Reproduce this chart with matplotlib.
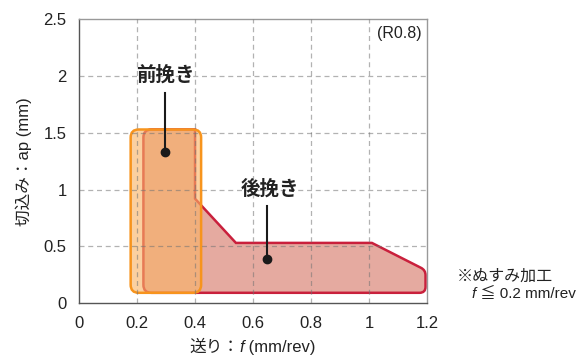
import matplotlib
matplotlib.use("Agg")
import matplotlib.pyplot as plt
from matplotlib.path import Path
from matplotlib.patches import PathPatch
from matplotlib.offsetbox import TextArea, HPacker, AnchoredOffsetbox

plt.rcParams['font.family'] = ['Liberation Sans', 'Noto Sans CJK JP', 'DejaVu Sans']

# 前挽き (area in f / ap)
front_f = [0.178, 0.421, 0.421, 0.178]
front_ap = [0.09, 0.09, 1.53, 1.53]

# 後挽き (area in f / ap)
back_f = [0.222, 1.195, 1.195, 1.01, 0.541, 0.40, 0.40, 0.222]
back_ap = [0.09, 0.09, 0.29, 0.53, 0.53, 0.92, 1.53, 1.53]
back_round = [8, 6, 5, 0, 0, 0, 0, 8]  # corner radius in px

x_ticks = [0, 0.2, 0.4, 0.6, 0.8, 1.0, 1.2]
x_ticklabels = ['0', '0.2', '0.4', '0.6', '0.8', '1', '1.2']
y_ticks = [0, 0.5, 1.0, 1.5, 2.0, 2.5]
y_ticklabels = ['0', '0.5', '1', '1.5', '2', '2.5']

front_label = (0.297, 2.01, 1.85, 1.335)  # text x, text y, line top, dot
back_label = (0.659, 1.01, 0.855, 0.385)
back_line_x = 0.647

fig = plt.figure(figsize=(5.77, 3.58), dpi=100)
ax = fig.add_axes([0.137, 0.1536, 0.603, 0.792])
ax.set_xlim(0, 1.2)
ax.set_ylim(0, 2.5)

# px per data unit (for rounding corners)
sx = 0.603 * 577 / 1.2
sy = 0.792 * 358 / 2.5


def rounded_path(xs, ys, radii):
    n = len(xs)
    verts, codes = [], []
    for i in range(n):
        px, py = xs[i] * sx, ys[i] * sy
        r = radii[i]
        if r == 0:
            verts.append((px, py))
            codes.append(Path.LINETO)
            continue
        ax_, ay_ = xs[i - 1] * sx, ys[i - 1] * sy
        bx, by = xs[(i + 1) % n] * sx, ys[(i + 1) % n] * sy
        da = ((ax_ - px) ** 2 + (ay_ - py) ** 2) ** 0.5
        db = ((bx - px) ** 2 + (by - py) ** 2) ** 0.5
        p1 = (px + r * (ax_ - px) / da, py + r * (ay_ - py) / da)
        p2 = (px + r * (bx - px) / db, py + r * (by - py) / db)
        verts += [p1, (px, py), p2]
        codes += [Path.LINETO, Path.CURVE3, Path.CURVE3]
    codes[0] = Path.MOVETO
    verts.append(verts[0])
    codes.append(Path.CLOSEPOLY)
    verts = [(vx / sx, vy / sy) for vx, vy in verts]
    return Path(verts, codes)


def mixed_text(parts, size, anchor, loc):
    # parts: list of (text, italic)
    areas = [TextArea(t, textprops=dict(fontsize=size, color='#222222',
                                        fontstyle='italic' if it else 'normal'))
             for t, it in parts]
    box = HPacker(children=areas, align='baseline', pad=0, sep=0)
    ab = AnchoredOffsetbox(loc=loc, child=box, frameon=False, pad=0, borderpad=0,
                           bbox_to_anchor=anchor, bbox_transform=fig.transFigure)
    fig.add_artist(ab)


for v in x_ticks[1:-1]:
    ax.axvline(v, color=(0.45, 0.45, 0.45, 0.55), lw=0.9, ls=(0, (4, 3)), zorder=4)
for v in y_ticks[1:-1]:
    ax.axhline(v, color=(0.45, 0.45, 0.45, 0.55), lw=0.9, ls=(0, (4, 3)), zorder=4)

ax.add_patch(PathPatch(rounded_path(back_f, back_ap, back_round),
                       facecolor='#e5aaa0', edgecolor='#c9203c', lw=1.8, zorder=2))
ax.add_patch(PathPatch(rounded_path(front_f, front_ap, [8, 8, 8, 8]),
                       facecolor=(0.98, 0.70, 0.40, 0.62), edgecolor='#f7941d', lw=1.8, zorder=3))

tx, ty, lt, ld = front_label
ax.text(tx, ty, '前挽き', ha='center', va='center', fontsize=14, fontweight='bold', color='#222222', zorder=5)
ax.plot([tx, tx], [lt, ld], color='#1a1a1a', lw=1.5, zorder=5)
ax.plot(tx, ld, 'o', color='#1a1a1a', ms=6, zorder=5)

tx, ty, lt, ld = back_label
ax.text(tx, ty, '後挽き', ha='center', va='center', fontsize=14, fontweight='bold', color='#222222', zorder=5)
ax.plot([back_line_x, back_line_x], [lt, ld], color='#1a1a1a', lw=1.5, zorder=5)
ax.plot(back_line_x, ld, 'o', color='#1a1a1a', ms=6, zorder=5)

ax.text(1.18, 2.38, '(R0.8)', ha='right', va='center', fontsize=11.5, color='#222222')

ax.set_xticks(x_ticks)
ax.set_xticklabels(x_ticklabels)
ax.set_yticks(y_ticks)
ax.set_yticklabels(y_ticklabels)
ax.tick_params(length=0, labelsize=12, colors='#222222')
ax.tick_params(axis='x', pad=9)
ax.tick_params(axis='y', pad=9)

for s in ['left', 'bottom']:
    ax.spines[s].set_color('#555555')
    ax.spines[s].set_linewidth(1.0)
for s in ['top', 'right']:
    ax.spines[s].set_color('#999999')
    ax.spines[s].set_linewidth(1.0)

ax.set_ylabel('切込み：ap (mm)', fontsize=12, color='#222222', labelpad=8)

# x label with italic f
mixed_text([('送り：', False), ('f', True), (' (mm/rev)', False)], 12,
           (0.438, 1 - 347 / 358), 'center')

fig.text(0.7915, 0.229, '※ぬすみ加工', fontsize=11.5, va='center', color='#222222')
mixed_text([('f', True), (' ≦ 0.2 mm/rev', False)], 11,
           (0.8175, 0.178), 'center left')

fig.savefig('out.png', dpi=100)
